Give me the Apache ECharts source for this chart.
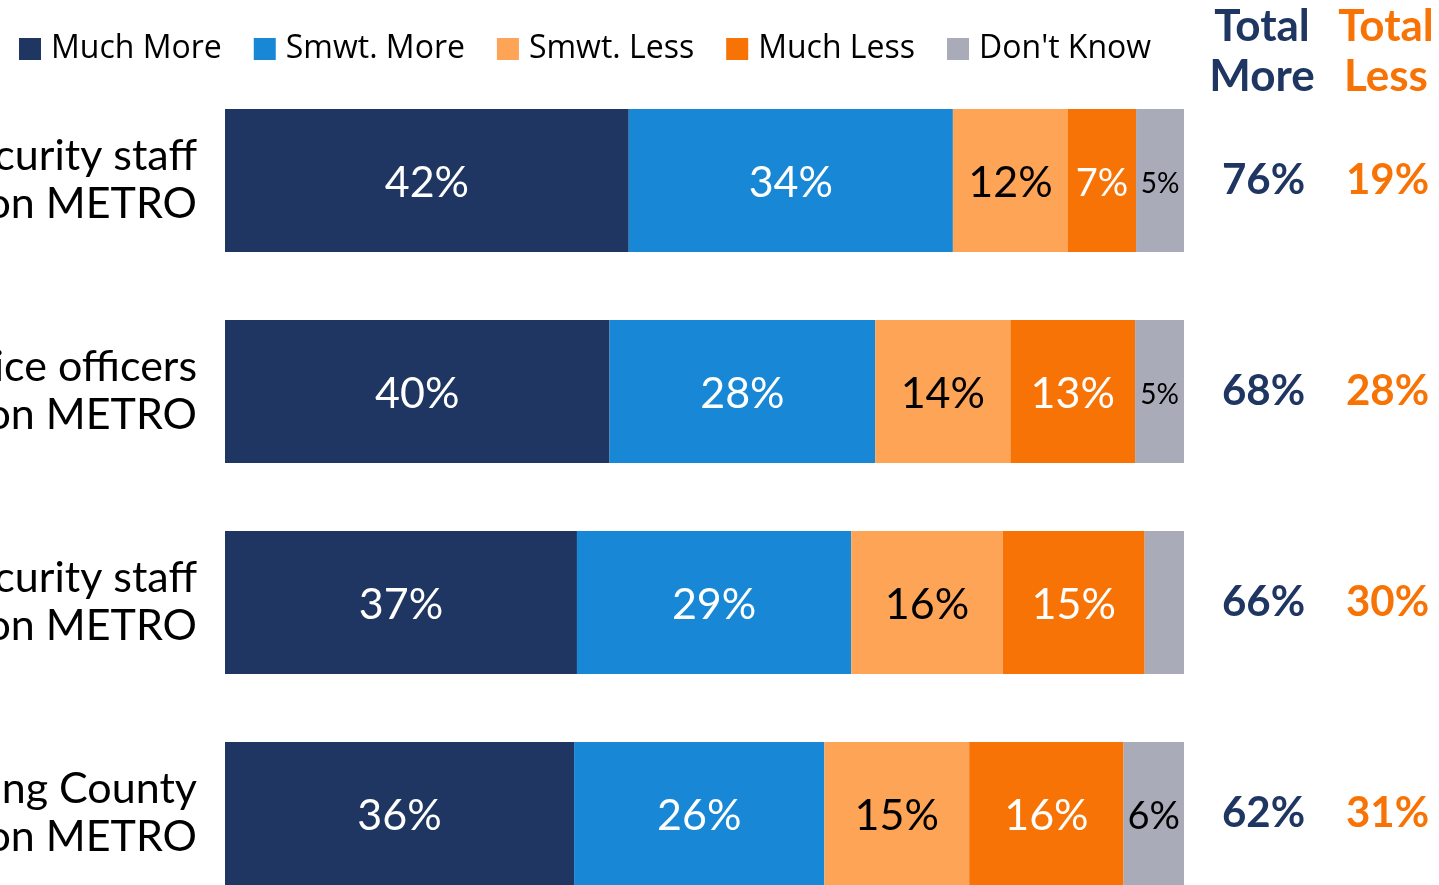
<!DOCTYPE html>
<html>
<head>
<meta charset="utf-8">
<script src="https://cdn.jsdelivr.net/npm/echarts@6/dist/echarts.min.js"></script>
<style>
    html, body { margin: 0; padding: 0; background: #fff; }
    #chart { width: 1439px; height: 885px; }
</style>
</head>
<body>
<div id="chart"></div>
<script>
const categories = [
    'Having unarmed security staff\nriding on METRO',
    'Having uniformed police officers\nriding on METRO',
    'Having armed security staff\nriding on METRO',
    'Having deputies from King County\nSheriff riding on METRO'
];
const seriesNames = ['Much More', 'Smwt. More', 'Smwt. Less', 'Much Less', "Don't Know"];
const muchMore = [42.1, 40.1, 36.7, 36.4];
const smwtMore = [33.8, 27.7, 28.6, 26.1];
const smwtLess = [12.0, 14.1, 15.8, 15.1];
const muchLess = [7.1, 13.0, 14.8, 16.1];
const dontKnow = [5.0, 5.1, 4.1, 6.3];
const totalMore = [76, 68, 66, 62];
const totalLess = [19, 28, 30, 31];

const colors = ['#1e3661', '#1888d6', '#fda457', '#f87305', '#a9abb8'];
const labelColors = ['#fff', '#fff', '#000', '#fff', '#000'];

(function (echarts) {
    'use strict';

    const chart = echarts.init(document.getElementById('chart'));

    // smaller labels where the segment is narrow, hidden below 5%
    const itemsOf = function (values) {
        return values.map(function (v) {
            return {
                value: v,
                label: {
                    show: v >= 5,
                    fontSize: v < 6 ? 28 : (v < 8 ? 38 : 43)
                }
            };
        });
    };

    const seriesValues = [muchMore, smwtMore, smwtLess, muchLess, dontKnow];
    const series = seriesValues.map(function (values, i) {
        return {
            name: seriesNames[i],
            type: 'bar',
            stack: 'all',
            barWidth: 143,
            itemStyle: { color: colors[i] },
            label: {
                show: true,
                position: 'inside',
                offset: [0, 3],
                color: labelColors[i],
                fontFamily: 'Lato',
                fontSize: 43,
                formatter: function (p) {
                    return Math.round(p.value) + '%';
                }
            },
            data: itemsOf(values)
        };
    });

    chart.setOption({
        animation: false,
        backgroundColor: '#fff',
        legend: {
            left: 14,
            top: 28,
            itemWidth: 22,
            itemHeight: 22,
            itemGap: 32,
            icon: 'rect',
            textStyle: { fontFamily: 'Open Sans', fontSize: 32, color: '#000', padding: [0, 0, 0, 5] },
            data: seriesNames
        },
        graphic: [
            {
                type: 'text', x: 1262, y: 2,
                style: {
                    text: 'Total\nMore', textAlign: 'center', textVerticalAlign: 'top',
                    fontFamily: 'Lato', fontWeight: 'bold', fontSize: 44, lineHeight: 50, fill: '#1e3661'
                }
            },
            {
                type: 'text', x: 1386, y: 2,
                style: {
                    text: 'Total\nLess', textAlign: 'center', textVerticalAlign: 'top',
                    fontFamily: 'Lato', fontWeight: 'bold', fontSize: 44, lineHeight: 50, fill: '#f87305'
                }
            }
        ],
        grid: { left: 225, right: 255, top: 75, height: 844, outerBoundsMode: 'none' },
        xAxis: { type: 'value', min: 0, max: 100, show: false },
        yAxis: [
            {
                type: 'category',
                inverse: true,
                data: categories,
                axisLine: { show: false },
                axisTick: { show: false },
                axisLabel: {
                    margin: 28,
                    fontFamily: 'Lato',
                    fontSize: 43,
                    lineHeight: 48,
                    color: '#000',
                    align: 'right'
                }
            },
            {
                type: 'category',
                inverse: true,
                position: 'right',
                data: categories,
                axisLine: { show: false },
                axisTick: { show: false },
                axisLabel: {
                    margin: 38,
                    formatter: function (v, i) {
                        return '{m|' + totalMore[i] + '%}{l|' + totalLess[i] + '%}';
                    },
                    rich: {
                        m: { width: 124, fontFamily: 'Lato', fontWeight: 'bold', fontSize: 42, color: '#1e3661' },
                        l: { fontFamily: 'Lato', fontWeight: 'bold', fontSize: 42, color: '#f87305' }
                    }
                }
            }
        ],
        series: series
    });
})(echarts);
</script>
</body>
</html>
